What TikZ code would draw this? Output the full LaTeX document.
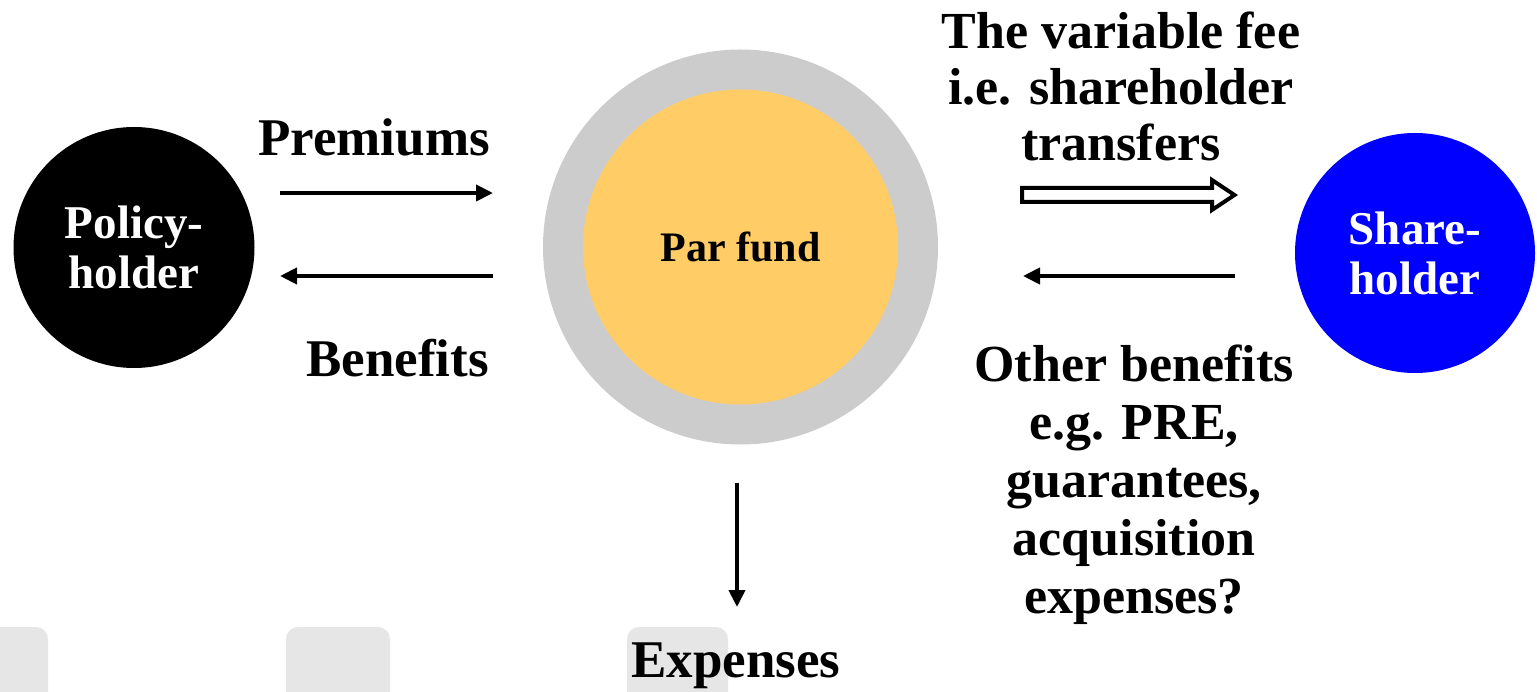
\documentclass[tikz,border=0pt]{standalone}
\usepackage{fontspec}
\setmainfont{Liberation Serif}
\usetikzlibrary{arrows.meta,calc}
\definecolor{parorange}{HTML}{FFCC66}
\definecolor{pargray}{HTML}{CCCCCC}
\definecolor{shblue}{HTML}{0000FF}
\definecolor{boxgray}{HTML}{E6E6E6}
\begin{document}
\begin{tikzpicture}[x=1pt,y=-1pt,
  lbl/.style={font=\fontsize{52}{57}\selectfont\bfseries, inner sep=0pt, align=center},
  biglbl/.style={lbl, font=\fontsize{53}{57}\selectfont\bfseries},
  party/.style={circle, inner sep=0pt, align=center, text=white,
    font=\fontsize{47}{50}\selectfont\bfseries},
  flow/.style={line width=4pt, -{Triangle[length=17pt,width=16pt]}},
  hollow/.style={line width=4pt, draw=black, fill=white, line join=miter},
  bgbox/.style={fill=boxgray, rounded corners=12pt}]
\clip (0,0) rectangle (1537,692);
\fill[white] (0,0) rectangle (1537,692);
% background boxes at the bottom
\fill[bgbox] (-20,627) rectangle (48,730);
\fill[bgbox] (286,627) rectangle (390,730);
\fill[bgbox] (627,627) rectangle (728,730);
% parties
\node[party, fill=black, minimum size=241pt] (ph) at (134,247.5) {Policy-\\holder};
\node[circle, fill=pargray, minimum size=395pt, inner sep=0pt] (pfo) at (740.5,247) {};
\node[circle, fill=parorange, minimum size=315pt, inner sep=0pt,
  font=\fontsize{42}{46}\selectfont\bfseries] (pf) at (740.5,247) {Par fund};
\node[party, fill=shblue, minimum size=240pt] (sh) at (1415,253) {Share-\\holder};
% arrow end points
\coordinate (p1) at (280,193); \coordinate (p2) at (493,193);
\coordinate (b1) at (493,276); \coordinate (b2) at (280,276);
\coordinate (o1) at (1235,276); \coordinate (o2) at (1023,276);
\coordinate (e1) at (737,483); \coordinate (e2) at (737,607);
\coordinate (vs) at (1022,195); \coordinate (ve) at (1234.5,195);
% arrows
\draw[flow] (p1) -- (p2);
\draw[flow] (b1) -- (b2);
\draw[flow] (o1) -- (o2);
\draw[flow] (e1) -- (e2);
\draw[hollow] ($(vs)+(0,-7)$) -- ($(ve)+(-22.5,-7)$) -- ($(ve)+(-22.5,-15)$) -- (ve)
  -- ($(ve)+(-22.5,15)$) -- ($(ve)+(-22.5,7)$) -- ($(vs)+(0,7)$) -- cycle;
% labels (anchor=base of a multi-line node is the baseline of its last line)
\node[biglbl, anchor=base] (lprem) at (374,156) {Premiums};
\node[biglbl, anchor=base] (lben) at (397.5,377) {Benefits};
\node[lbl, anchor=base, font=\fontsize{52}{56}\selectfont\bfseries] (lfee) at (1121,161)
  {The variable fee\\i.e. shareholder\\transfers};
\node[lbl, anchor=base, font=\fontsize{52}{58}\selectfont\bfseries] (loth) at (1134,613)
  {Other benefits\\e.g. PRE,\\guarantees,\\acquisition\\expenses?};
\node[biglbl, anchor=base] (lexp) at (736,677) {Expenses};
\end{tikzpicture}
\end{document}
